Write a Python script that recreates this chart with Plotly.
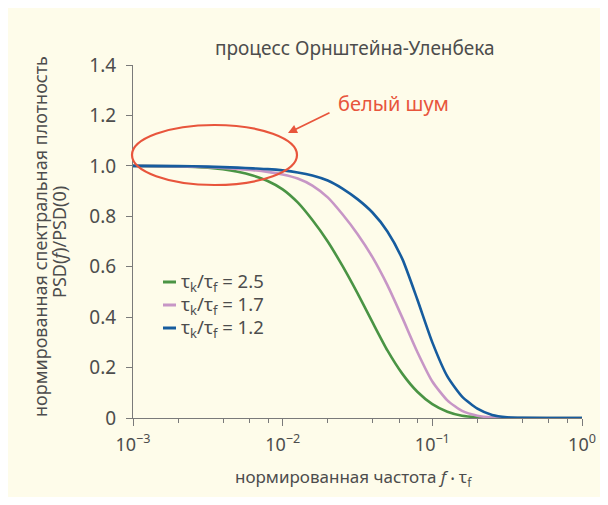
import plotly.graph_objects as go

# ---- data (normalised frequency f·τf, normalised PSD) ----
freq = [0.001, 0.002, 0.00316, 0.00398, 0.00501, 0.00631, 0.00794, 0.01, 0.0126, 0.0158,
        0.02, 0.0251, 0.0316, 0.0398, 0.0501, 0.0631, 0.0794, 0.1, 0.126, 0.158,
        0.2, 0.251, 0.316, 0.398, 1.0]
green_y = [1.0, 0.998, 0.993, 0.987, 0.977, 0.962, 0.94, 0.907, 0.855, 0.785,
           0.70, 0.603, 0.495, 0.38, 0.268, 0.175, 0.104, 0.055, 0.025, 0.009,
           0.003, 0.0008, 0.0, 0.0, 0.0]
pink_y = [1.0, 0.998, 0.995, 0.992, 0.988, 0.983, 0.976, 0.966, 0.95, 0.922,
          0.875, 0.808, 0.73, 0.638, 0.527, 0.397, 0.262, 0.145, 0.07, 0.028,
          0.009, 0.002, 0.0004, 0.0, 0.0]
blue_y = [1.0, 0.999, 0.997, 0.995, 0.993, 0.99, 0.987, 0.982, 0.974, 0.962,
          0.942, 0.91, 0.868, 0.815, 0.74, 0.63, 0.47, 0.30, 0.165, 0.085,
          0.037, 0.012, 0.003, 0.0005, 0.0]

series_names = ["τ<sub>k</sub>/τ<sub>f</sub> = 2.5", "τ<sub>k</sub>/τ<sub>f</sub> = 1.7",
                "τ<sub>k</sub>/τ<sub>f</sub> = 1.2"]
series_colors = ["#4a9444", "#c796c6", "#165c9e"]

x_tickvals = [0.001, 0.01, 0.1, 1.0]
x_ticktext = ["10<sup>−3</sup>", "10<sup>−2</sup>", "10<sup>−1</sup>", "10<sup>0</sup>"]
x_minor_mult = [2, 4, 6, 8]
y_tickvals = [0, 0.2, 0.4, 0.6, 0.8, 1.0, 1.2, 1.4]
y_ticktext = ["0", "0.2", "0.4", "0.6", "0.8", "1.0", "1.2", "1.4"]

title_text = "процесс Орнштейна-Уленбека"
x_title = "нормированная частота <i>f</i> <span style='font-size:10px'>•</span> τ<sub>f</sub>"
y_title_1 = "нормированная спектральная плотность"
y_title_2 = "PSD(<i>f</i>)/PSD(0)"
noise_label = "белый шум"

# ---- layout geometry (page pixels; the page body adds an 8px margin) ----
OFF = 8
W, H = 592, 489
PL, PR, PT, PB = 133, 582, 65, 418          # plot area in page pixels
L, R, T, B = PL - OFF, OFF + W - PR, PT - OFF, OFF + H - PB
PW, PH = PR - PL, PB - PT


def px(x):
    return (x - PL) / PW


def py(y):
    return (PB - y) / PH


TXT = "#4d4d4d"
FONT = "Noto Sans"
RED = "#e8553c"
AX = "#7a7a7a"

fig = go.Figure()
for fy, name, col in zip([green_y, pink_y, blue_y], series_names, series_colors):
    fig.add_trace(go.Scatter(x=freq, y=fy, mode="lines", name=name,
                             line=dict(color=col, width=2.6, shape="spline", smoothing=0.6),
                             showlegend=False))

minor_vals = [m * 10 ** e for e in (-3, -2, -1) for m in x_minor_mult]

fig.update_layout(
    width=W, height=H,
    margin=dict(l=L, r=R, t=T, b=B, pad=0, autoexpand=False),
    paper_bgcolor="#fefcea",
    plot_bgcolor="rgba(0,0,0,0)",
    font=dict(family=FONT, color=TXT, size=16),
    showlegend=False,
    xaxis=dict(type="log", range=[-3, 0], showgrid=False, zeroline=False, automargin=False,
               showline=True, linecolor=AX, linewidth=1,
               ticks="outside", ticklen=7, tickcolor=AX, tickwidth=1,
               tickvals=x_tickvals, ticktext=x_ticktext,
               tickfont=dict(size=18, color=TXT, family=FONT), ticklabelstandoff=3,
               minor=dict(tickvals=minor_vals, ticks="outside", ticklen=4,
                          tickcolor=AX, tickwidth=1, showgrid=False)),
    yaxis=dict(range=[0, 1.4], showgrid=False, zeroline=False, automargin=False,
               showline=True, linecolor=AX, linewidth=1,
               ticks="outside", ticklen=6, tickcolor=AX, tickwidth=1,
               tickvals=y_tickvals, ticktext=y_ticktext,
               tickfont=dict(size=19, color=TXT, family=FONT), ticklabelstandoff=6),
)

shapes = [
    dict(type="circle", xref="paper", yref="paper", x0=px(132), x1=px(297), y0=py(185), y1=py(125),
         line=dict(color=RED, width=2.2)),
]
leg_rows = [282, 305, 328]
for yy, col in zip(leg_rows, series_colors):
    shapes.append(dict(type="line", xref="paper", yref="paper", x0=px(163), x1=px(176),
                       y0=py(yy), y1=py(yy), line=dict(color=col, width=3)))
fig.update_layout(shapes=shapes)

ann = [
    dict(text=title_text, x=px(355), y=py(48), xref="paper", yref="paper", showarrow=False,
         xanchor="center", yanchor="middle", font=dict(size=19, color=TXT)),
    dict(text=noise_label, x=px(336), y=py(103), xref="paper", yref="paper", showarrow=False,
         xanchor="left", yanchor="middle", font=dict(size=20, color=RED)),
    dict(text="", x=px(288), y=py(133), xref="paper", yref="paper", showarrow=True,
         ax=43, ay=-21, arrowcolor=RED, arrowwidth=1.8, arrowhead=2, arrowsize=1),
    dict(text=x_title, x=px(353), y=py(478), xref="paper", yref="paper", showarrow=False,
         xanchor="center", yanchor="middle", font=dict(size=17, color=TXT)),
    dict(text=y_title_1, x=px(40), y=py(237), xref="paper", yref="paper", showarrow=False,
         textangle=-90, xanchor="center", yanchor="middle", font=dict(size=18, color=TXT)),
    dict(text=y_title_2, x=px(59), y=py(242), xref="paper", yref="paper", showarrow=False,
         textangle=-90, xanchor="center", yanchor="middle", font=dict(size=18, color=TXT)),
]
for yy, name in zip(leg_rows, series_names):
    ann.append(dict(text=name, x=px(179), y=py(yy), xref="paper", yref="paper", showarrow=False,
                    xanchor="left", yanchor="middle", font=dict(size=18.5, color=TXT)))
fig.update_layout(annotations=ann)

fig.write_html("out.html")
